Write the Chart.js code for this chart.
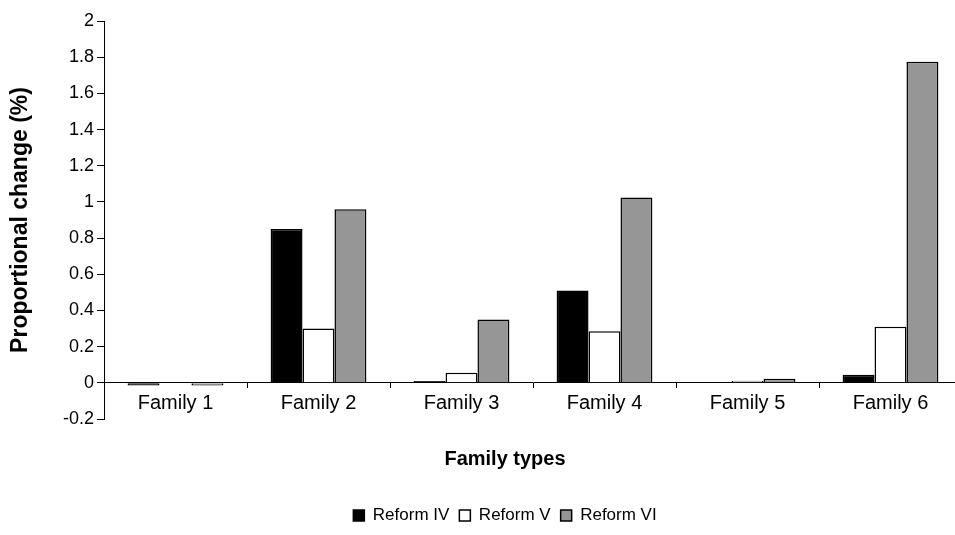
<!DOCTYPE html>
<html>
<head>
<meta charset="utf-8">
<script src="https://cdn.jsdelivr.net/npm/chart.js@4.4.1/dist/chart.umd.min.js"></script>
<style>
  html, body { margin: 0; padding: 0; background: #fff; overflow: hidden; }
  #wrap { position: relative; width: 955px; height: 535px; overflow: hidden; }
  #box { position: absolute; left: 0; top: 0; width: 1010px; height: 535px; }
</style>
</head>
<body>
<div id="wrap">
  <div id="box"><canvas id="chart"></canvas></div>
</div>
<script>
const categories = ['Family 1', 'Family 2', 'Family 3', 'Family 4', 'Family 5', 'Family 6'];
const reformIV = [-0.015, 0.85, 0.01, 0.51, 0, 0.045];
const reformV = [0, 0.30, 0.055, 0.285, 0.012, 0.31];
const reformVI = [-0.015, 0.96, 0.35, 1.025, 0.022, 1.775];
const yTicks = [-0.2, 0, 0.2, 0.4, 0.6, 0.8, 1, 1.2, 1.4, 1.6, 1.8, 2];

const font = "'Liberation Sans', Arial, sans-serif";
Chart.defaults.font.family = font;
Chart.defaults.color = '#000';

const ctx = document.getElementById('chart').getContext('2d');

new Chart(ctx, {
  type: 'bar',
  data: {
    labels: categories,
    datasets: [
      { label: 'Reform IV', data: reformIV, backgroundColor: '#000', borderColor: '#000', borderWidth: 1.5 },
      { label: 'Reform V', data: reformV, backgroundColor: '#fff', borderColor: '#000', borderWidth: 1.5 },
      { label: 'Reform VI', data: reformVI, backgroundColor: '#969696', borderColor: '#000', borderWidth: 1.5 },
    ],
  },
  options: {
    responsive: true,
    maintainAspectRatio: false,
    animation: false,
    categoryPercentage: 0.67,
    barPercentage: 1,
    layout: { padding: { top: 21, right: 0, left: 0, bottom: 1 } },
    plugins: {
      tooltip: { enabled: false },
      // x axis title, centred on the whole figure like the original
      title: {
        display: true,
        text: 'Family types',
        position: 'bottom',
        weight: 500,
        font: { size: 20, weight: 'bold' },
        padding: { top: 28, bottom: 26 },
      },
      legend: {
        position: 'bottom',
        labels: {
          boxWidth: 11,
          boxHeight: 11,
          padding: 10,
          font: { size: 17 },
        },
      },
    },
    scales: {
      x: {
        position: { y: 0 },
        grid: {
          offset: true,
          drawOnChartArea: false,
          drawTicks: true,
          tickLength: 5,
          color: '#000',
        },
        border: { color: '#000', width: 1 },
        ticks: { padding: 4, font: { size: 20 } },
      },
      y: {
        min: -0.2,
        max: 2,
        afterFit: (scale) => { scale.width = 104; },
        afterBuildTicks: (scale) => { scale.ticks = yTicks.map(v => ({ value: v })); },
        grid: {
          drawOnChartArea: false,
          drawTicks: true,
          tickLength: 7,
          color: '#000',
        },
        border: { color: '#000', width: 1 },
        ticks: {
          padding: 3,
          font: { size: 18 },
          callback: (v) => String(Number(v.toFixed(1))),
        },
        title: {
          display: true,
          text: 'Proportional change (%)',
          font: { size: 23, weight: 'bold' },
          padding: { top: 7, bottom: 0 },
        },
      },
      // empty right-hand spacer so the plot runs past the picture edge
      // while legend and x title stay centred on the full figure
      spacer: {
        type: 'linear',
        position: 'right',
        grid: { display: false },
        border: { display: false },
        ticks: { display: false },
        afterFit: (scale) => { scale.width = 48; },
      },
    },
  },
});
</script>
</body>
</html>
